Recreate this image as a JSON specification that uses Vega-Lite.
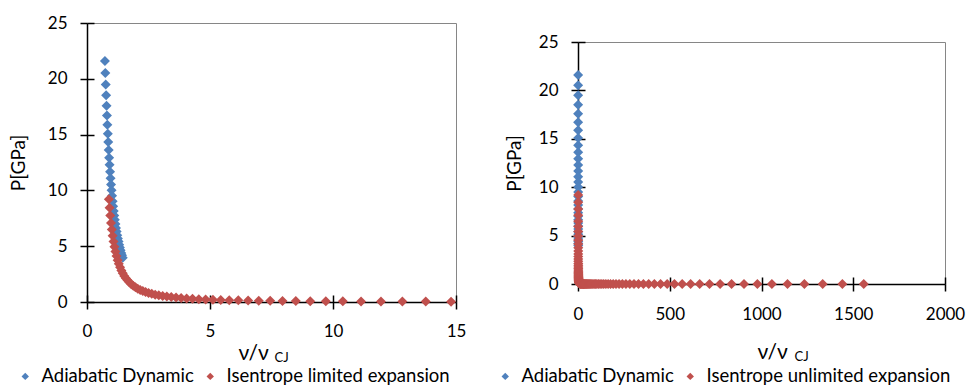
{
 "$schema": "https://vega.github.io/schema/vega-lite/v6.json",
 "config": {
  "font": "Lato",
  "view": {"stroke": "#868686", "strokeWidth": 1},
  "axis": {"grid": false, "labelFontSize": 17, "labelColor": "#000", "titleColor": "#000", "titleFontWeight": "normal", "domainColor": "#000", "tickColor": "#000", "domainWidth": 1.5, "tickWidth": 1.5, "labelFlush": false},
  "legend": {"labelLimit": 0}
 },
 "padding": {"left": 8, "top": 13, "right": 0, "bottom": 0},
 "spacing": 29,
 "resolve": {"scale": {"color": "independent"}},
 "datasets": {
  "blue": [
   {"v":0.730,"P":21.60,"series":"Adiabatic Dynamic"},{"v":0.745,"P":20.52,"series":"Adiabatic Dynamic"},{"v":0.761,"P":19.49,"series":"Adiabatic Dynamic"},{"v":0.777,"P":18.52,"series":"Adiabatic Dynamic"},{"v":0.794,"P":17.59,"series":"Adiabatic Dynamic"},{"v":0.810,"P":16.71,"series":"Adiabatic Dynamic"},{"v":0.827,"P":15.88,"series":"Adiabatic Dynamic"},{"v":0.845,"P":15.08,"series":"Adiabatic Dynamic"},{"v":0.863,"P":14.33,"series":"Adiabatic Dynamic"},{"v":0.881,"P":13.61,"series":"Adiabatic Dynamic"},{"v":0.899,"P":12.93,"series":"Adiabatic Dynamic"},{"v":0.918,"P":12.29,"series":"Adiabatic Dynamic"},{"v":0.938,"P":11.67,"series":"Adiabatic Dynamic"},{"v":0.957,"P":11.09,"series":"Adiabatic Dynamic"},{"v":0.977,"P":10.53,"series":"Adiabatic Dynamic"},{"v":0.998,"P":10.01,"series":"Adiabatic Dynamic"},{"v":1.019,"P":9.51,"series":"Adiabatic Dynamic"},{"v":1.041,"P":9.03,"series":"Adiabatic Dynamic"},{"v":1.062,"P":8.58,"series":"Adiabatic Dynamic"},{"v":1.085,"P":8.15,"series":"Adiabatic Dynamic"},{"v":1.108,"P":7.74,"series":"Adiabatic Dynamic"},{"v":1.131,"P":7.36,"series":"Adiabatic Dynamic"},{"v":1.155,"P":6.99,"series":"Adiabatic Dynamic"},{"v":1.179,"P":6.64,"series":"Adiabatic Dynamic"},{"v":1.204,"P":6.31,"series":"Adiabatic Dynamic"},{"v":1.229,"P":5.99,"series":"Adiabatic Dynamic"},{"v":1.255,"P":5.69,"series":"Adiabatic Dynamic"},{"v":1.282,"P":5.41,"series":"Adiabatic Dynamic"},{"v":1.309,"P":5.14,"series":"Adiabatic Dynamic"},{"v":1.336,"P":4.88,"series":"Adiabatic Dynamic"},{"v":1.365,"P":4.64,"series":"Adiabatic Dynamic"},{"v":1.393,"P":4.40,"series":"Adiabatic Dynamic"},{"v":1.423,"P":4.18,"series":"Adiabatic Dynamic"},{"v":1.453,"P":3.97,"series":"Adiabatic Dynamic"}
  ],
  "redL": [
   {"v":0.890,"P":9.20,"series":"Isentrope limited expansion"},{"v":0.917,"P":8.45,"series":"Isentrope limited expansion"},{"v":0.946,"P":7.74,"series":"Isentrope limited expansion"},{"v":0.976,"P":7.09,"series":"Isentrope limited expansion"},{"v":1.008,"P":6.49,"series":"Isentrope limited expansion"},{"v":1.042,"P":5.94,"series":"Isentrope limited expansion"},{"v":1.078,"P":5.42,"series":"Isentrope limited expansion"},{"v":1.116,"P":4.95,"series":"Isentrope limited expansion"},{"v":1.156,"P":4.52,"series":"Isentrope limited expansion"},{"v":1.199,"P":4.12,"series":"Isentrope limited expansion"},{"v":1.244,"P":3.75,"series":"Isentrope limited expansion"},{"v":1.292,"P":3.42,"series":"Isentrope limited expansion"},{"v":1.343,"P":3.11,"series":"Isentrope limited expansion"},{"v":1.397,"P":2.83,"series":"Isentrope limited expansion"},{"v":1.454,"P":2.58,"series":"Isentrope limited expansion"},{"v":1.515,"P":2.34,"series":"Isentrope limited expansion"},{"v":1.580,"P":2.13,"series":"Isentrope limited expansion"},{"v":1.648,"P":1.94,"series":"Isentrope limited expansion"},{"v":1.721,"P":1.76,"series":"Isentrope limited expansion"},{"v":1.799,"P":1.60,"series":"Isentrope limited expansion"},{"v":1.881,"P":1.45,"series":"Isentrope limited expansion"},{"v":1.969,"P":1.32,"series":"Isentrope limited expansion"},{"v":2.063,"P":1.19,"series":"Isentrope limited expansion"},{"v":2.163,"P":1.08,"series":"Isentrope limited expansion"},{"v":2.269,"P":0.982,"series":"Isentrope limited expansion"},{"v":2.382,"P":0.889,"series":"Isentrope limited expansion"},{"v":2.503,"P":0.805,"series":"Isentrope limited expansion"},{"v":2.633,"P":0.729,"series":"Isentrope limited expansion"},{"v":2.771,"P":0.659,"series":"Isentrope limited expansion"},{"v":2.918,"P":0.596,"series":"Isentrope limited expansion"},{"v":3.076,"P":0.538,"series":"Isentrope limited expansion"},{"v":3.245,"P":0.485,"series":"Isentrope limited expansion"},{"v":3.426,"P":0.438,"series":"Isentrope limited expansion"},{"v":3.620,"P":0.394,"series":"Isentrope limited expansion"},{"v":3.827,"P":0.355,"series":"Isentrope limited expansion"},{"v":4.050,"P":0.319,"series":"Isentrope limited expansion"},{"v":4.289,"P":0.287,"series":"Isentrope limited expansion"},{"v":4.546,"P":0.257,"series":"Isentrope limited expansion"},{"v":4.822,"P":0.231,"series":"Isentrope limited expansion"},{"v":5.119,"P":0.207,"series":"Isentrope limited expansion"},{"v":5.438,"P":0.185,"series":"Isentrope limited expansion"},{"v":5.782,"P":0.165,"series":"Isentrope limited expansion"},{"v":6.152,"P":0.148,"series":"Isentrope limited expansion"},{"v":6.551,"P":0.131,"series":"Isentrope limited expansion"},{"v":6.981,"P":0.117,"series":"Isentrope limited expansion"},{"v":7.446,"P":0.104,"series":"Isentrope limited expansion"},{"v":7.947,"P":0.0924,"series":"Isentrope limited expansion"},{"v":8.489,"P":0.0820,"series":"Isentrope limited expansion"},{"v":9.075,"P":0.0727,"series":"Isentrope limited expansion"},{"v":9.709,"P":0.0643,"series":"Isentrope limited expansion"},{"v":10.40,"P":0.0568,"series":"Isentrope limited expansion"},{"v":11.14,"P":0.0502,"series":"Isentrope limited expansion"},{"v":11.95,"P":0.0442,"series":"Isentrope limited expansion"},{"v":12.82,"P":0.0388,"series":"Isentrope limited expansion"},{"v":13.77,"P":0.0341,"series":"Isentrope limited expansion"},{"v":14.80,"P":0.0300,"series":"Isentrope limited expansion"}
  ],
  "redR": [
   {"v":0.890,"P":9.20,"series":"Isentrope unlimited expansion"},{"v":0.917,"P":8.45,"series":"Isentrope unlimited expansion"},{"v":0.946,"P":7.74,"series":"Isentrope unlimited expansion"},{"v":0.976,"P":7.09,"series":"Isentrope unlimited expansion"},{"v":1.008,"P":6.49,"series":"Isentrope unlimited expansion"},{"v":1.042,"P":5.94,"series":"Isentrope unlimited expansion"},{"v":1.078,"P":5.42,"series":"Isentrope unlimited expansion"},{"v":1.116,"P":4.95,"series":"Isentrope unlimited expansion"},{"v":1.156,"P":4.52,"series":"Isentrope unlimited expansion"},{"v":1.199,"P":4.12,"series":"Isentrope unlimited expansion"},{"v":1.244,"P":3.75,"series":"Isentrope unlimited expansion"},{"v":1.292,"P":3.42,"series":"Isentrope unlimited expansion"},{"v":1.343,"P":3.11,"series":"Isentrope unlimited expansion"},{"v":1.397,"P":2.83,"series":"Isentrope unlimited expansion"},{"v":1.454,"P":2.58,"series":"Isentrope unlimited expansion"},{"v":1.515,"P":2.34,"series":"Isentrope unlimited expansion"},{"v":1.580,"P":2.13,"series":"Isentrope unlimited expansion"},{"v":1.648,"P":1.94,"series":"Isentrope unlimited expansion"},{"v":1.721,"P":1.76,"series":"Isentrope unlimited expansion"},{"v":1.799,"P":1.60,"series":"Isentrope unlimited expansion"},{"v":1.881,"P":1.45,"series":"Isentrope unlimited expansion"},{"v":1.969,"P":1.32,"series":"Isentrope unlimited expansion"},{"v":2.063,"P":1.19,"series":"Isentrope unlimited expansion"},{"v":2.163,"P":1.08,"series":"Isentrope unlimited expansion"},{"v":2.269,"P":0.982,"series":"Isentrope unlimited expansion"},{"v":2.382,"P":0.889,"series":"Isentrope unlimited expansion"},{"v":2.503,"P":0.805,"series":"Isentrope unlimited expansion"},{"v":2.633,"P":0.729,"series":"Isentrope unlimited expansion"},{"v":2.771,"P":0.659,"series":"Isentrope unlimited expansion"},{"v":2.918,"P":0.596,"series":"Isentrope unlimited expansion"},{"v":3.076,"P":0.538,"series":"Isentrope unlimited expansion"},{"v":3.245,"P":0.485,"series":"Isentrope unlimited expansion"},{"v":3.426,"P":0.438,"series":"Isentrope unlimited expansion"},{"v":3.620,"P":0.394,"series":"Isentrope unlimited expansion"},{"v":3.827,"P":0.355,"series":"Isentrope unlimited expansion"},{"v":4.050,"P":0.319,"series":"Isentrope unlimited expansion"},{"v":4.289,"P":0.287,"series":"Isentrope unlimited expansion"},{"v":4.546,"P":0.257,"series":"Isentrope unlimited expansion"},{"v":4.822,"P":0.231,"series":"Isentrope unlimited expansion"},{"v":5.119,"P":0.207,"series":"Isentrope unlimited expansion"},{"v":5.438,"P":0.185,"series":"Isentrope unlimited expansion"},{"v":5.782,"P":0.165,"series":"Isentrope unlimited expansion"},{"v":6.152,"P":0.148,"series":"Isentrope unlimited expansion"},{"v":6.551,"P":0.131,"series":"Isentrope unlimited expansion"},{"v":6.981,"P":0.117,"series":"Isentrope unlimited expansion"},{"v":7.446,"P":0.104,"series":"Isentrope unlimited expansion"},{"v":7.947,"P":0.0924,"series":"Isentrope unlimited expansion"},{"v":8.489,"P":0.0820,"series":"Isentrope unlimited expansion"},{"v":9.075,"P":0.0727,"series":"Isentrope unlimited expansion"},{"v":9.709,"P":0.0643,"series":"Isentrope unlimited expansion"},{"v":10.40,"P":0.0568,"series":"Isentrope unlimited expansion"},{"v":11.14,"P":0.0502,"series":"Isentrope unlimited expansion"},{"v":11.95,"P":0.0442,"series":"Isentrope unlimited expansion"},{"v":12.82,"P":0.0388,"series":"Isentrope unlimited expansion"},{"v":13.77,"P":0.0341,"series":"Isentrope unlimited expansion"},{"v":14.80,"P":0.0300,"series":"Isentrope unlimited expansion"},
   {"v":15.99,"P":0.0261,"series":"Isentrope unlimited expansion"},{"v":17.28,"P":0.0227,"series":"Isentrope unlimited expansion"},{"v":18.68,"P":0.0197,"series":"Isentrope unlimited expansion"},{"v":20.18,"P":0.0172,"series":"Isentrope unlimited expansion"},{"v":21.81,"P":0.0149,"series":"Isentrope unlimited expansion"},{"v":23.57,"P":0.0130,"series":"Isentrope unlimited expansion"},{"v":25.48,"P":0.0113,"series":"Isentrope unlimited expansion"},{"v":27.53,"P":0.0098,"series":"Isentrope unlimited expansion"},{"v":29.75,"P":0.0086,"series":"Isentrope unlimited expansion"},{"v":32.15,"P":0.0074,"series":"Isentrope unlimited expansion"},{"v":34.75,"P":0.0065,"series":"Isentrope unlimited expansion"},{"v":37.55,"P":0.0056,"series":"Isentrope unlimited expansion"},{"v":40.58,"P":0.0049,"series":"Isentrope unlimited expansion"},{"v":43.86,"P":0.0043,"series":"Isentrope unlimited expansion"},{"v":47.40,"P":0.0037,"series":"Isentrope unlimited expansion"},{"v":51.22,"P":0.0032,"series":"Isentrope unlimited expansion"},{"v":55.35,"P":0.0028,"series":"Isentrope unlimited expansion"},{"v":59.82,"P":0.0024,"series":"Isentrope unlimited expansion"},{"v":64.65,"P":0.0021,"series":"Isentrope unlimited expansion"},{"v":69.86,"P":0.0018,"series":"Isentrope unlimited expansion"},{"v":75.50,"P":0.0016,"series":"Isentrope unlimited expansion"},{"v":81.59,"P":0.0014,"series":"Isentrope unlimited expansion"},{"v":88.18,"P":0.0012,"series":"Isentrope unlimited expansion"},{"v":95.29,"P":0.0011,"series":"Isentrope unlimited expansion"},{"v":102.98,"P":0.0009,"series":"Isentrope unlimited expansion"},{"v":111.29,"P":0.0008,"series":"Isentrope unlimited expansion"},{"v":120.27,"P":0.0007,"series":"Isentrope unlimited expansion"},{"v":129.97,"P":0.0006,"series":"Isentrope unlimited expansion"},{"v":140.46,"P":0.0005,"series":"Isentrope unlimited expansion"},{"v":151.80,"P":0.0005,"series":"Isentrope unlimited expansion"},{"v":164.05,"P":0.0004,"series":"Isentrope unlimited expansion"},{"v":177.29,"P":0.0003,"series":"Isentrope unlimited expansion"},{"v":191.59,"P":0.0003,"series":"Isentrope unlimited expansion"},{"v":207.05,"P":0.0003,"series":"Isentrope unlimited expansion"},{"v":223.76,"P":0.0002,"series":"Isentrope unlimited expansion"},{"v":241.82,"P":0.0002,"series":"Isentrope unlimited expansion"},{"v":261.33,"P":0.0002,"series":"Isentrope unlimited expansion"},{"v":282.42,"P":0.0001,"series":"Isentrope unlimited expansion"},{"v":305.21,"P":0.0001,"series":"Isentrope unlimited expansion"},{"v":329.83,"P":0.0001,"series":"Isentrope unlimited expansion"},{"v":356.45,"P":0.0001,"series":"Isentrope unlimited expansion"},{"v":385.21,"P":0.0001,"series":"Isentrope unlimited expansion"},{"v":416.29,"P":0.0001,"series":"Isentrope unlimited expansion"},{"v":449.88,"P":0.0001,"series":"Isentrope unlimited expansion"},{"v":486.18,"P":0.0001,"series":"Isentrope unlimited expansion"},{"v":525.41,"P":0.0001,"series":"Isentrope unlimited expansion"},{"v":567.81,"P":0.0001,"series":"Isentrope unlimited expansion"},{"v":613.63,"P":0.0001,"series":"Isentrope unlimited expansion"},{"v":663.14,"P":0.0001,"series":"Isentrope unlimited expansion"},{"v":716.65,"P":0.0001,"series":"Isentrope unlimited expansion"},{"v":774.48,"P":0.0001,"series":"Isentrope unlimited expansion"},{"v":836.97,"P":0.0001,"series":"Isentrope unlimited expansion"},{"v":904.51,"P":0.0001,"series":"Isentrope unlimited expansion"},{"v":977.50,"P":0.0001,"series":"Isentrope unlimited expansion"},{"v":1056.4,"P":0.0001,"series":"Isentrope unlimited expansion"},{"v":1141.6,"P":0.0001,"series":"Isentrope unlimited expansion"},{"v":1233.7,"P":0.0001,"series":"Isentrope unlimited expansion"},{"v":1333.3,"P":0.0001,"series":"Isentrope unlimited expansion"},{"v":1440.9,"P":0.0001,"series":"Isentrope unlimited expansion"},{"v":1557.2,"P":0.0001,"series":"Isentrope unlimited expansion"}
  ]
 },
 "hconcat": [
  {
   "width": 369, "height": 279,
   "resolve": {"axis": {"x": "independent", "y": "independent"}},
   "layer": [
    {
     "data": {"name": "blue"},
     "mark": {"type": "point", "shape": "diamond", "filled": true, "size": 100, "opacity": 1},
     "encoding": {
      "x": {"field": "v", "type": "quantitative", "scale": {"domain": [0, 15], "nice": false},
            "axis": {"values": [0, 5, 10, 15], "tickSize": 7, "labelPadding": 14, "title": "ν/ν", "titleFontSize": 21, "titleX": 151, "titleY": 57, "titleAlign": "left", "titleBaseline": "alphabetic"}},
      "y": {"field": "P", "type": "quantitative", "scale": {"domain": [0, 25], "nice": false},
            "axis": {"values": [0, 5, 10, 15, 20, 25], "tickSize": 7, "labelPadding": 13, "title": "P[GPa]", "titleFontSize": 19, "titlePadding": 19}},
      "color": {"field": "series", "type": "nominal",
                "scale": {"domain": ["Adiabatic Dynamic", "Isentrope limited expansion"], "range": ["#4F81BD", "#C0504D"]},
                "legend": {"orient": "none", "legendX": -71, "legendY": 344, "direction": "horizontal", "title": null, "symbolType": "diamond", "symbolSize": 55, "labelFontSize": 18.5, "labelColor": "#000", "columnPadding": 7, "labelOffset": 7, "padding": 0, "labelLimit": 0}}
     }
    },
    {
     "data": {"name": "redL"},
     "mark": {"type": "point", "shape": "diamond", "filled": true, "size": 100, "opacity": 1},
     "encoding": {
      "x": {"field": "v", "type": "quantitative", "scale": {"domain": [0, 15], "nice": false},
            "axis": {"orient": "bottom", "values": [0, 5, 10, 15], "tickSize": -7, "labels": false, "domain": false, "title": "CJ", "titleFontSize": 13, "titleX": 187, "titleY": 59, "titleAlign": "left", "titleBaseline": "alphabetic"}},
      "y": {"field": "P", "type": "quantitative", "scale": {"domain": [0, 25], "nice": false},
            "axis": {"orient": "left", "values": [0, 5, 10, 15, 20, 25], "tickSize": -7, "labels": false, "domain": false, "title": null}},
      "color": {"field": "series", "type": "nominal"}
     }
    }
   ]
  },
  {
   "spacing": 8,
   "vconcat": [
    {
     "width": 367, "height": 1,
     "view": {"stroke": null},
     "data": {"values": []},
     "mark": {"type": "point"},
     "encoding": {}
    },
    {
     "width": 367, "height": 242,
     "resolve": {"axis": {"x": "independent", "y": "independent"}},
     "layer": [
      {
       "data": {"name": "blue"},
       "mark": {"type": "point", "shape": "diamond", "filled": true, "size": 100, "opacity": 1},
       "encoding": {
        "x": {"field": "v", "type": "quantitative", "scale": {"domain": [0, 2000], "nice": false},
              "axis": {"values": [0, 500, 1000, 1500, 2000], "format": "d", "tickSize": 7, "labelPadding": 15, "title": "ν/ν", "titleFontSize": 21, "titleX": 179, "titleY": 74, "titleAlign": "left", "titleBaseline": "alphabetic"}},
        "y": {"field": "P", "type": "quantitative", "scale": {"domain": [0, 25], "nice": false},
              "axis": {"values": [0, 5, 10, 15, 20, 25], "tickSize": 7, "labelPadding": 13, "title": "P[GPa]", "titleFontSize": 19, "titlePadding": 14}},
        "color": {"field": "series", "type": "nominal",
                  "scale": {"domain": ["Adiabatic Dynamic", "Isentrope unlimited expansion"], "range": ["#4F81BD", "#C0504D"]},
                  "legend": {"orient": "none", "legendX": -82, "legendY": 344, "direction": "horizontal", "title": null, "symbolType": "diamond", "symbolSize": 55, "labelFontSize": 18.5, "labelColor": "#000", "columnPadding": 7, "labelOffset": 7, "padding": 0, "labelLimit": 0}}
       }
      },
      {
       "data": {"name": "redR"},
       "mark": {"type": "point", "shape": "diamond", "filled": true, "size": 100, "opacity": 1},
       "encoding": {
        "x": {"field": "v", "type": "quantitative", "scale": {"domain": [0, 2000], "nice": false},
              "axis": {"orient": "bottom", "values": [0, 500, 1000, 1500, 2000], "tickSize": -7, "labels": false, "domain": false, "title": "CJ", "titleFontSize": 13, "titleX": 216, "titleY": 76, "titleAlign": "left", "titleBaseline": "alphabetic"}},
        "y": {"field": "P", "type": "quantitative", "scale": {"domain": [0, 25], "nice": false},
              "axis": {"orient": "left", "values": [0, 5, 10, 15, 20, 25], "tickSize": -7, "labels": false, "domain": false, "title": null}},
        "color": {"field": "series", "type": "nominal"}
       }
      }
     ]
    }
   ]
  }
 ]
}
